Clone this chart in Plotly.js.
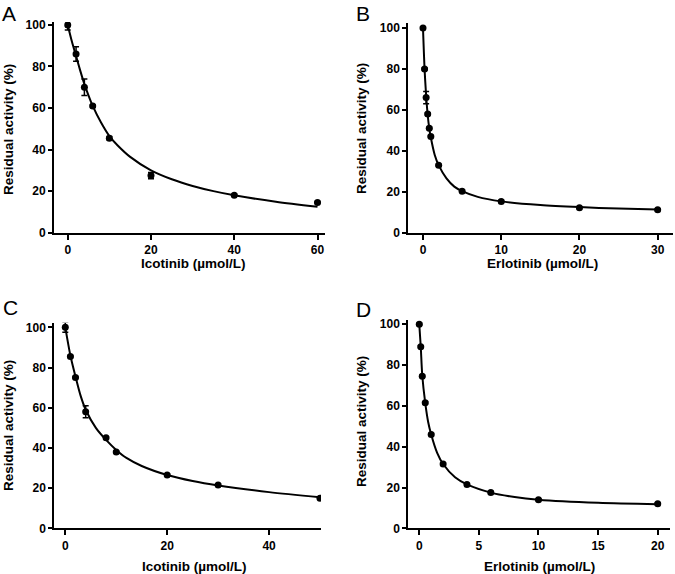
<!DOCTYPE html>
<html>
<head>
<meta charset="utf-8">
<script src="https://cdn.plot.ly/plotly-3.0.1.min.js"></script>
<style>html,body{margin:0;padding:0;background:#fff;}#chart{width:675px;height:574px;}</style>
</head>
<body>
<div id="chart"></div>
<script>
// Panel A: Icotinib
const aDose = [0, 2, 4, 6, 10, 20, 40, 60];
const aAct  = [100, 86, 70, 61, 45.5, 27.5, 18, 14.5];
const aErr  = [2.5, 3.5, 4, 0.5, 0.8, 1.5, 0.5, 0.5];
const aFitX = [0, 1, 2, 3, 4, 5, 6, 8, 10, 12, 15, 20, 25, 30, 35, 40, 50, 60];
const aFitY = [100, 92, 85, 78, 71.5, 66, 61, 53, 46.5, 42, 36.5, 30, 25.7, 22.5, 20, 18, 14.9, 12.5];

// Panel B: Erlotinib
const bDose = [0, 0.2, 0.4, 0.6, 0.8, 1, 2, 5, 10, 20, 30];
const bAct  = [100, 80, 66, 58, 51, 47, 33, 20.3, 15.3, 12.2, 11.2];
const bErr  = [0.5, 0.5, 3, 0.5, 0.5, 0.5, 0.5, 0.5, 0.5, 0.5, 0.5];
const bFitX = [0, 0.2, 0.4, 0.6, 0.8, 1, 1.5, 2, 3, 4, 5, 7, 10, 15, 20, 25, 30];
const bFitY = [100, 80, 67, 57.5, 51, 46.5, 38, 33, 26.5, 22.5, 20.3, 17.5, 15.3, 13.5, 12.5, 11.8, 11.3];

// Panel C: Icotinib
const cDose = [0, 1, 2, 4, 8, 10, 20, 30, 50];
const cAct  = [100, 85.5, 75, 58, 45, 38, 26.5, 21.5, 15];
const cErr  = [2.5, 0.5, 0.5, 3, 0.5, 0.5, 0.5, 0.5, 0.5];
const cFitX = [0, 1, 2, 3, 4, 6, 8, 10, 12, 15, 20, 25, 30, 40, 50];
const cFitY = [100, 86, 75.5, 66, 59, 50, 44, 39, 35, 31, 26.5, 23.5, 21.3, 18, 15.5];

// Panel D: Erlotinib
const dDose = [0, 0.125, 0.25, 0.5, 1, 2, 4, 6, 10, 20];
const dAct  = [100, 89, 74.5, 61.5, 46, 31.5, 21.5, 17.5, 14, 12];
const dErr  = [0.5, 0.5, 0.5, 0.5, 0.5, 0.5, 0.5, 0.5, 0.5, 0.5];
const dFitX = [0, 0.125, 0.25, 0.5, 0.75, 1, 1.5, 2, 3, 4, 6, 8, 10, 15, 20];
const dFitY = [100, 89, 75, 61.5, 52, 46, 37, 31.5, 25, 21.5, 17.5, 15.3, 14, 12.5, 11.8];

const yTicks = [0, 20, 40, 60, 80, 100];
const aTicks = [0, 20, 40, 60];
const bTicks = [0, 10, 20, 30];
const cTicks = [0, 20, 40];
const dTicks = [0, 5, 10, 15, 20];

const panelLetters = ['A', 'B', 'C', 'D'];
const xTitles = ['Icotinib (µmol/L)', 'Erlotinib (µmol/L)', 'Icotinib (µmol/L)', 'Erlotinib (µmol/L)'];
const yTitle = 'Residual activity (%)';

const FONT = 'Liberation Sans, Arial, sans-serif';
const W = 675, H = 574;
const px = v => v / W;
const py = v => 1 - v / H;

function fitTrace(x, y, ax) {
  return {x: x, y: y, xaxis: 'x' + ax, yaxis: 'y' + ax, type: 'scatter', mode: 'lines',
    line: {color: '#000', width: 2, shape: 'spline', smoothing: 0.8}, hoverinfo: 'skip', showlegend: false};
}
function ptTrace(x, y, e, ax) {
  return {x: x, y: y, xaxis: 'x' + ax, yaxis: 'y' + ax, type: 'scatter', mode: 'markers',
    marker: {color: '#000', size: 7},
    error_y: {type: 'data', array: e, visible: true, color: '#000', thickness: 1.5, width: 3},
    showlegend: false};
}

const ax1 = '', ax2 = '2', ax3 = '3', ax4 = '4';
const data = [
  fitTrace(aFitX, aFitY, ax1), ptTrace(aDose, aAct, aErr, ax1),
  fitTrace(bFitX, bFitY, ax2), ptTrace(bDose, bAct, bErr, ax2),
  fitTrace(cFitX, cFitY, ax3), ptTrace(cDose, cAct, cErr, ax3),
  fitTrace(dFitX, dFitY, ax4), ptTrace(dDose, dAct, dErr, ax4)
];

const tickFont = {family: FONT, size: 12, color: '#000', weight: 'bold'};
function xAxis(dom, rng, ticks, anchor) {
  return {domain: dom, range: rng, anchor: anchor, tickvals: ticks, ticktext: ticks.map(String),
    showline: true, linewidth: 2, linecolor: '#000', ticks: 'outside', ticklen: 5, tickwidth: 2,
    tickcolor: '#000', showgrid: false, zeroline: false, tickfont: tickFont, fixedrange: true};
}
function yAxis(dom, rng, anchor) {
  return {domain: dom, range: rng, anchor: anchor, tickvals: yTicks, ticktext: yTicks.map(String),
    showline: true, linewidth: 2, linecolor: '#000', ticks: 'outside', ticklen: 4, tickwidth: 2,
    tickcolor: '#000', showgrid: false, zeroline: false, tickfont: tickFont, fixedrange: true};
}

const annText = (t, x, y, size, bold, rot) => ({text: t, x: px(x), y: py(y), xref: 'paper', yref: 'paper',
  xanchor: 'center', yanchor: 'middle', showarrow: false, textangle: rot || 0,
  font: {family: FONT, size: size, color: '#000', weight: bold ? 'bold' : 'normal'}});

const layout = {
  width: W, height: H, margin: {l: 0, r: 0, t: 0, b: 0},
  paper_bgcolor: '#fff', plot_bgcolor: 'rgba(0,0,0,0)', showlegend: false,
  xaxis:  xAxis([px(54), px(325)], [-3.3, 61.8], aTicks, 'y'),
  yaxis:  yAxis([py(232.7), py(22)], [0, 101.4], 'x'),
  xaxis2: xAxis([px(408.3), px(673.3)], [-1.88, 32.0], bTicks, 'y2'),
  yaxis2: yAxis([py(232.7), py(23.3)], [0, 102.3], 'x2'),
  xaxis3: xAxis([px(54.3), px(321)], [-2.16, 50.2], cTicks, 'y3'),
  yaxis3: yAxis([py(528.3), py(322.7)], [0, 102.3], 'x3'),
  xaxis4: xAxis([px(408.3), px(670)], [-0.92, 21.03], dTicks, 'y4'),
  yaxis4: yAxis([py(528.3), py(320)], [0, 102.1], 'x4'),
  annotations: [
    annText(panelLetters[0], 9, 13, 21, false),
    annText(panelLetters[1], 363, 13, 21, false),
    annText(panelLetters[2], 10, 307, 21, false),
    annText(panelLetters[3], 364, 309, 21, false),
    annText(xTitles[0], 193, 263, 13.5, true),
    annText(xTitles[1], 542, 263, 13.5, true),
    annText(xTitles[2], 194, 566, 13.5, true),
    annText(xTitles[3], 539, 566, 13.5, true),
    annText(yTitle, 8, 130, 13.5, true, -90),
    annText(yTitle, 361, 129, 13.5, true, -90),
    annText(yTitle, 8, 426, 13.5, true, -90),
    annText(yTitle, 361, 422, 13.5, true, -90)
  ]
};

Plotly.newPlot('chart', data, layout, {displayModeBar: false, staticPlot: true});
</script>
</body>
</html>
